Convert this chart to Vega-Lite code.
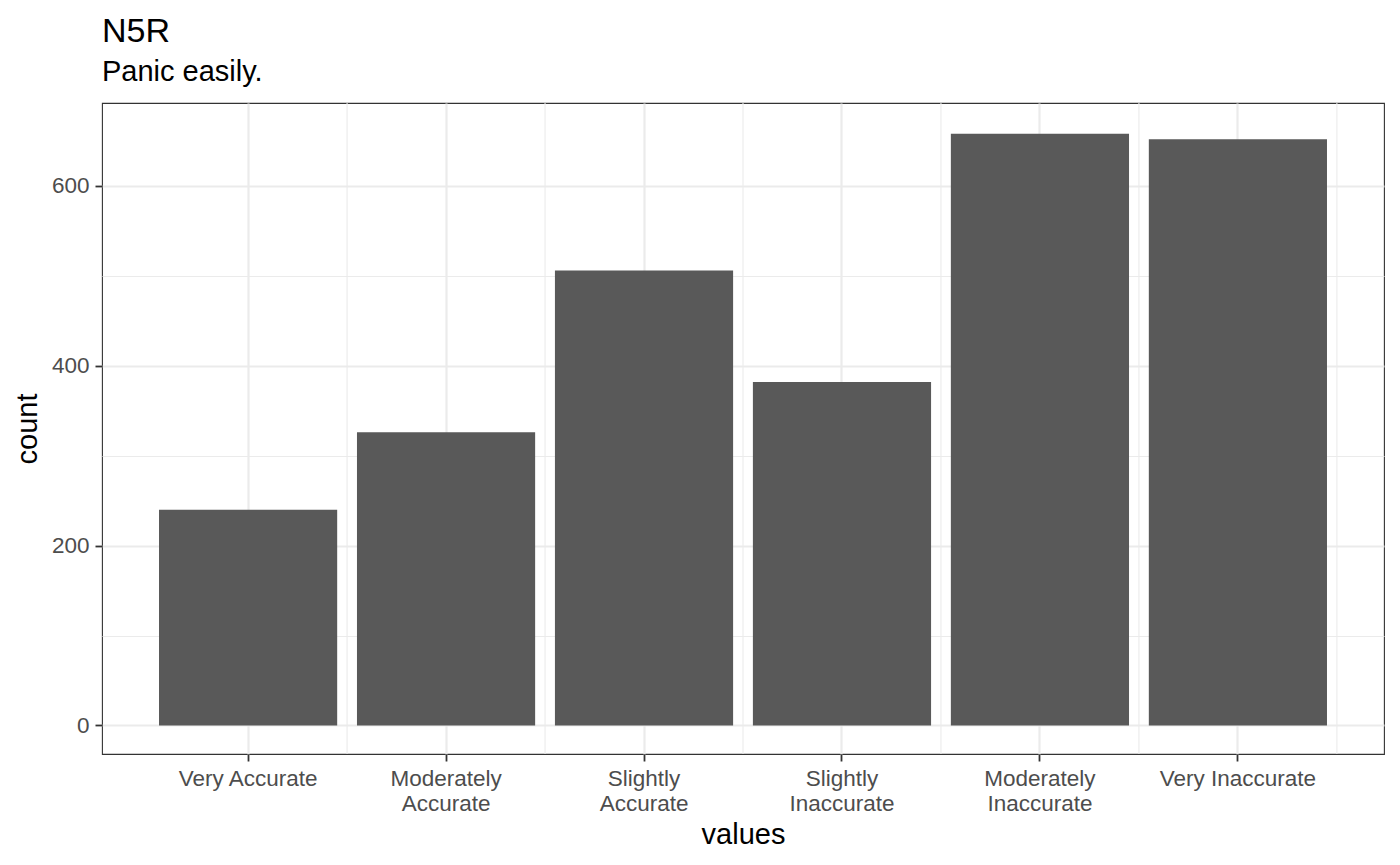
{
  "$schema": "https://vega.github.io/schema/vega-lite/v6.json",
  "autosize": "none",
  "padding": {"left": 102, "top": 103, "right": 16, "bottom": 111},
  "width": 1282,
  "height": 651,
  "background": "white",
  "title": {
    "text": "N5R",
    "subtitle": "Panic easily.",
    "anchor": "start",
    "frame": "group",
    "fontSize": 34,
    "fontWeight": "normal",
    "color": "black",
    "subtitleFontSize": 29,
    "subtitleColor": "black",
    "subtitlePadding": 9,
    "offset": 15
  },
  "data": {
    "values": [
      {"values": "Very Accurate", "count": 240},
      {"values": "Moderately\nAccurate", "count": 326},
      {"values": "Slightly\nAccurate", "count": 506},
      {"values": "Slightly\nInaccurate", "count": 382},
      {"values": "Moderately\nInaccurate", "count": 658},
      {"values": "Very Inaccurate", "count": 652}
    ]
  },
  "encoding": {
    "x": {
      "field": "values",
      "type": "nominal",
      "sort": null,
      "title": "values",
      "scale": {"paddingInner": 0.1, "paddingOuter": 0.288},
      "axis": {
        "labelAngle": 0,
        "labelExpr": "split(datum.value, '\\n')",
        "labelLineHeight": 25,
        "labelPadding": 6,
        "bandPosition": 0.5,
        "grid": true,
        "gridWidth": 2.2,
        "titlePadding": 6
      }
    }
  },
  "layer": [
    {
      "mark": {"type": "rule", "color": "#EBEBEB", "strokeWidth": 1.1, "xOffset": 9.9},
      "encoding": {
        "x": {"field": "values", "type": "nominal", "sort": null, "bandPosition": 1}
      }
    },
    {
      "mark": {"type": "bar", "color": "#595959"},
      "encoding": {
        "y": {
          "field": "count",
          "type": "quantitative",
          "title": "count",
          "scale": {"domain": [-31.7, 692.3], "nice": false, "zero": false},
          "axis": {
            "values": [0, 100, 200, 300, 400, 500, 600],
            "labelExpr": "datum.value % 200 === 0 ? datum.label : ''",
            "tickOpacity": {"condition": {"test": "datum.value % 200 === 0", "value": 1}, "value": 0},
            "gridWidth": {"condition": {"test": "datum.value % 200 === 0", "value": 2.2}, "value": 1.1},
            "grid": true,
            "labelPadding": 6,
            "titlePadding": 9
          }
        }
      }
    }
  ],
  "config": {
    "font": "Liberation Sans",
    "view": {"stroke": "#333333", "strokeWidth": 1.1},
    "axis": {
      "domain": false,
      "gridColor": "#EBEBEB",
      "tickColor": "#333333",
      "tickWidth": 1.8,
      "tickSize": 7,
      "labelFont": "Liberation Sans",
      "labelFontSize": 22.5,
      "labelColor": "#4D4D4D",
      "titleFont": "Liberation Sans",
      "titleFontSize": 29,
      "titleFontWeight": "normal",
      "titleColor": "black"
    }
  }
}
